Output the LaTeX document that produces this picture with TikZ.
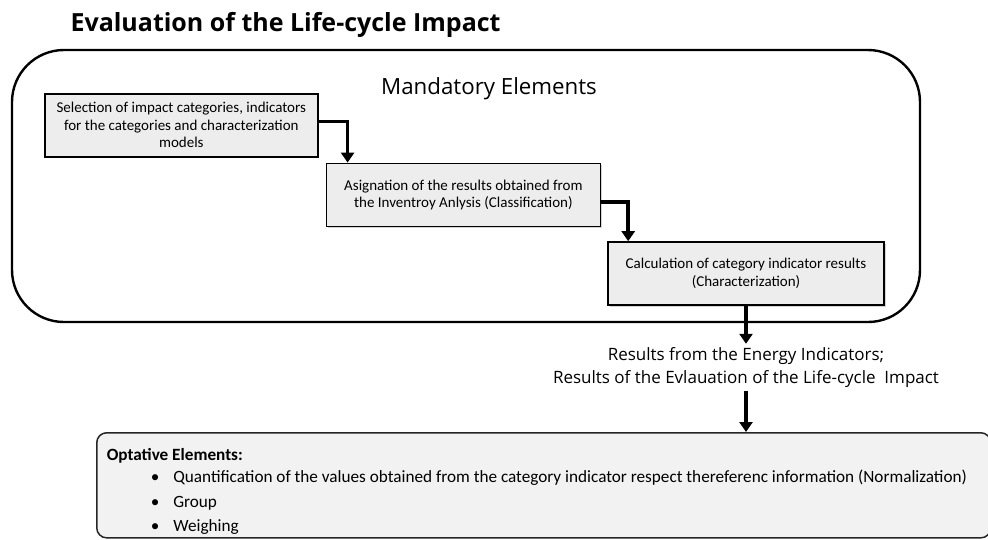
\documentclass[tikz,border=0pt]{standalone}
\usepackage{fontspec}
\setmainfont{Carlito}
\newfontfamily\headfont{Open Sans}
\usetikzlibrary{arrows.meta,positioning,shadows}

\begin{document}
\begin{tikzpicture}[x=1pt, y=-1pt,
  stage/.style={draw, line width=1.6pt, fill=gray!14, align=center, minimum height=63pt,
    font=\fontsize{15}{17.5}\selectfont,
    drop shadow={shadow xshift=1.5pt, shadow yshift=-1.5pt, opacity=0.35}},
  frame/.style={draw, line width=2.4pt, rounded corners=52pt, minimum width=908pt, minimum height=272pt},
  optbox/.style={draw=black!85, line width=1.5pt, fill=gray!10, rounded corners=10pt, align=flush left,
    minimum width=894pt, minimum height=105pt, text width=874pt, inner xsep=10pt,
    font=\fontsize{17.2}{24.5}\selectfont},
  arr/.style={-{Triangle[length=10pt,width=13pt]}, line width=3.5pt}
]
\useasboundingbox (0,0) rectangle (988,539);
\node[font=\headfont\bfseries\fontsize{25}{30}\selectfont, anchor=west] (title) at (67,25) {Evaluation of the Life-cycle Impact};
\node[frame] (mand) at (466,186) {};
\node[font=\headfont\fontsize{22.3}{26}\selectfont] (mandlbl) at (489,89) {Mandatory Elements};
\node[stage, minimum width=273pt, anchor=north west] (select) at (44,93) {Selection of impact categories, indicators\\for the categories and characterization\\models};
\node[stage, minimum width=274pt, below right=5pt and 7pt of select] (classif) {Asignation of the results obtained from\\the Inventroy Anlysis (Classification)};
\node[stage, minimum width=276pt, below right=14pt and 6pt of classif] (charac) {Calculation of category indicator results\\(Characterization)};
\node[font=\headfont\fontsize{17}{23}\selectfont, align=center, below=38pt of charac] (res) {Results from the Energy Indicators;\\Results of the Evlauation of the Life-cycle~ Impact};
\node[optbox, anchor=north west] (opt) at (96,432) {\rule{0pt}{24pt}\textbf{Optative Elements:}\\[-2pt]
\hspace*{44pt}\textbullet\hspace{14pt}Quantification of the values obtained from the category indicator respect thereferenc information (Normalization)\\
\hspace*{44pt}\textbullet\hspace{14pt}Group\\
\hspace*{44pt}\textbullet\hspace{14pt}Weighing};
\draw[arr] ([yshift=4pt]select.east) -| ([xshift=22pt]classif.north west);
\draw[arr] ([yshift=-7pt]classif.east) -| ([xshift=21pt]charac.north west);
\draw[arr] (charac.south) -- (res.north);
\draw[arr] (res.south) -- (res.south |- opt.north);
\end{tikzpicture}
\end{document}
